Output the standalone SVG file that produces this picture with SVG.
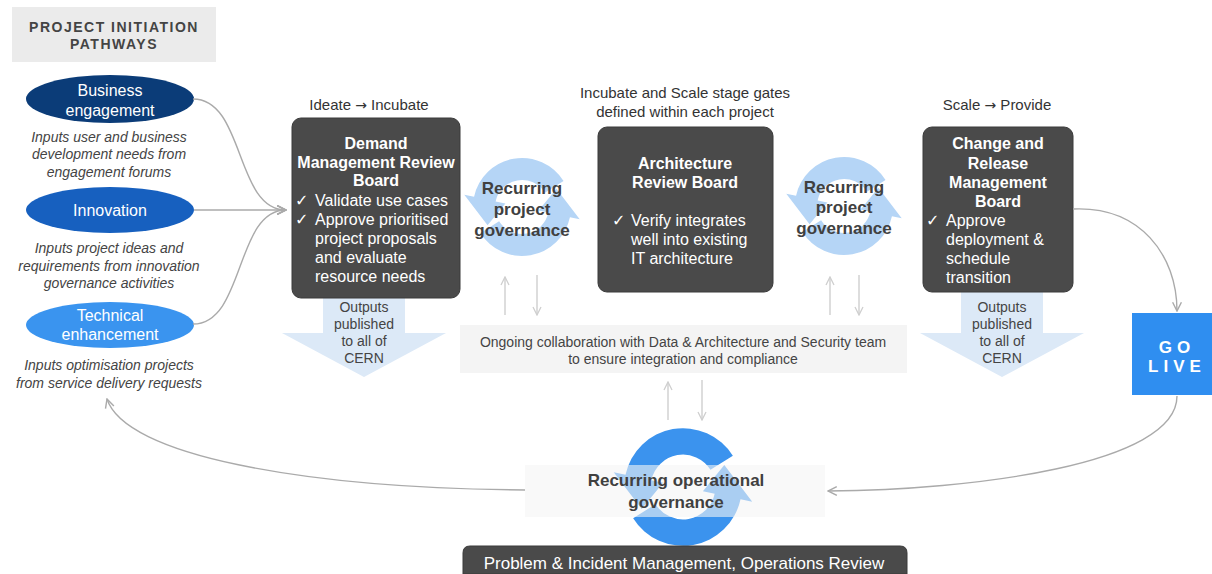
<svg xmlns="http://www.w3.org/2000/svg" xmlns:xlink="http://www.w3.org/1999/xlink" width="1212" height="574" viewBox="0 0 1212 574">
<style>
text{font-family:"Liberation Sans",Arial,sans-serif}
.lbl{font-size:15px;fill:#333;text-anchor:middle}
.ar{font-family:"DejaVu Sans",sans-serif;font-size:14px}
.it{font-size:14px;font-style:italic;fill:#444;text-anchor:middle}
.ell{font-size:16px;fill:#fff;text-anchor:middle}
.bh{font-size:16px;font-weight:bold;fill:#fff;text-anchor:middle}
.bt{font-size:16px;fill:#fff}
.ck{font-family:"DejaVu Sans",sans-serif;font-size:16px;fill:#fff}
.rg{font-size:17px;font-weight:bold;fill:#404040;text-anchor:middle}
.out{font-size:14px;fill:#444;text-anchor:middle}
.dark{fill:#4a4a4a;stroke:#3a3a3a;stroke-width:1}
.conn{fill:none;stroke:#aaa;stroke-width:1.4}
.thin{fill:none;stroke:#cfcfcf;stroke-width:1.4}
</style>
<defs>
<marker id="arr" viewBox="0 0 10 10" refX="9" refY="5" markerWidth="11" markerHeight="11" markerUnits="userSpaceOnUse" orient="auto"><path d="M1,1 L9,5 L1,9" fill="none" stroke="#aaa" stroke-width="1.3"/></marker>
<marker id="arrl" viewBox="0 0 10 10" refX="9" refY="5" markerWidth="10" markerHeight="10" markerUnits="userSpaceOnUse" orient="auto"><path d="M1,1 L9,5 L1,9" fill="none" stroke="#cfcfcf" stroke-width="1.3"/></marker>
<g id="cyc">
<path d="M41.55,-25.97 A49,49 0 0 0 -47.93,-10.19 L-57.71,-12.27 L-34.43,18.31 L-16.6,-3.53 L-26.4,-5.61 A27,27 0 0 1 22.9,-14.31 Z"/>
<path d="M-41.55,25.97 A49,49 0 0 0 47.93,10.19 L57.71,12.27 L34.43,-18.31 L16.6,3.53 L26.4,5.61 A27,27 0 0 1 -22.9,14.31 Z"/>
</g>
</defs>
<rect width="1212" height="574" fill="#fff"/>

<g id="title">
<rect x="12" y="7" width="204" height="55" fill="#ebebeb"/>
<text x="114" y="32" text-anchor="middle" font-size="14" font-weight="bold" fill="#444" letter-spacing="1.5">PROJECT INITIATION</text>
<text x="114" y="49" text-anchor="middle" font-size="14" font-weight="bold" fill="#444" letter-spacing="1.5">PATHWAYS</text>
</g>

<g id="business">
<ellipse cx="110" cy="99" rx="84" ry="24" fill="#0b3c78"/>
<text class="ell" x="110" y="96">Business</text>
<text class="ell" x="110" y="116">engagement</text>
<text class="it" x="109" y="142">Inputs user and business</text>
<text class="it" x="109" y="159">development needs from</text>
<text class="it" x="109" y="177">engagement forums</text>
</g>
<g id="innovation">
<ellipse cx="110" cy="210" rx="84" ry="23" fill="#1760bf"/>
<text class="ell" x="110" y="216">Innovation</text>
<text class="it" x="109" y="253">Inputs project ideas and</text>
<text class="it" x="109" y="271">requirements from innovation</text>
<text class="it" x="109" y="288">governance activities</text>
</g>
<g id="technical">
<ellipse cx="110" cy="325" rx="84" ry="23" fill="#3a94ef"/>
<text class="ell" x="110" y="321">Technical</text>
<text class="ell" x="110" y="340">enhancement</text>
<text class="it" x="109" y="370">Inputs optimisation projects</text>
<text class="it" x="109" y="388">from service delivery requests</text>
</g>

<g id="outputs1">
<polygon points="323,298 405,298 405,333 446,333 364,377 282,333 323,333" fill="#dce9f7"/>
<text class="out" x="364" y="312">Outputs</text>
<text class="out" x="364" y="329">published</text>
<text class="out" x="364" y="346">to all of</text>
<text class="out" x="364" y="363">CERN</text>
</g>
<g id="outputs2">
<polygon points="961,292 1043,292 1043,333 1084,333 1002,377 920,333 961,333" fill="#dce9f7"/>
<text class="out" x="1002" y="312">Outputs</text>
<text class="out" x="1002" y="329">published</text>
<text class="out" x="1002" y="346">to all of</text>
<text class="out" x="1002" y="363">CERN</text>
</g>

<g id="stage-labels">
<text class="lbl" x="369" y="110">Ideate <tspan class="ar">→</tspan> Incubate</text>
<text class="lbl" x="685" y="98">Incubate and Scale stage gates</text>
<text class="lbl" x="685" y="117">defined within each project</text>
<text class="lbl" x="997" y="110">Scale <tspan class="ar">→</tspan> Provide</text>
</g>

<g id="demand">
<rect class="dark" x="292" y="118" width="168" height="180" rx="9"/>
<text class="bh" x="376" y="149">Demand</text>
<text class="bh" x="376" y="168">Management Review</text>
<text class="bh" x="376" y="186">Board</text>
<text class="ck" x="295" y="206">✓</text><text class="bt" x="315" y="206">Validate use cases</text>
<text class="ck" x="295" y="225">✓</text><text class="bt" x="315" y="225">Approve prioritised</text>
<text class="bt" x="315" y="244">project proposals</text>
<text class="bt" x="315" y="263">and evaluate</text>
<text class="bt" x="315" y="282">resource needs</text>
</g>

<g id="architecture">
<rect class="dark" x="598" y="127" width="175" height="165" rx="9"/>
<text class="bh" x="685" y="169">Architecture</text>
<text class="bh" x="685" y="188">Review Board</text>
<text class="ck" x="612" y="226">✓</text><text class="bt" x="631" y="226">Verify integrates</text>
<text class="bt" x="631" y="245">well into existing</text>
<text class="bt" x="631" y="264">IT architecture</text>
</g>

<g id="change">
<rect class="dark" x="923" y="127" width="150" height="165" rx="9"/>
<text class="bh" x="998" y="149">Change and</text>
<text class="bh" x="998" y="169">Release</text>
<text class="bh" x="998" y="188">Management</text>
<text class="bh" x="998" y="207">Board</text>
<text class="ck" x="926" y="226">✓</text><text class="bt" x="946" y="226">Approve</text>
<text class="bt" x="946" y="245">deployment &amp;</text>
<text class="bt" x="946" y="264">schedule</text>
<text class="bt" x="946" y="283">transition</text>
</g>

<g id="project-governance-1">
<use xlink:href="#cyc" href="#cyc" transform="translate(522,207)" fill="#b5d5f6"/>
<text class="rg" x="522" y="194">Recurring</text>
<text class="rg" x="522" y="215">project</text>
<text class="rg" x="522" y="236">governance</text>
</g>
<g id="project-governance-2">
<use xlink:href="#cyc" href="#cyc" transform="translate(844,206)" fill="#b5d5f6"/>
<text class="rg" x="844" y="193">Recurring</text>
<text class="rg" x="844" y="213">project</text>
<text class="rg" x="844" y="234">governance</text>
</g>

<g id="collaboration">
<rect x="460" y="325" width="447" height="48" fill="#f4f4f4"/>
<text class="out" x="683" y="347">Ongoing collaboration with Data &amp; Architecture and Security team</text>
<text class="out" x="683" y="364">to ensure integration and compliance</text>
</g>

<g id="golive">
<rect x="1132" y="313" width="80" height="82" fill="#2f8ef0"/>
<text x="1177" y="353" text-anchor="middle" font-size="17" font-weight="bold" fill="#fff" letter-spacing="5">GO</text>
<text x="1177" y="372" text-anchor="middle" font-size="17" font-weight="bold" fill="#fff" letter-spacing="5">LIVE</text>
</g>

<g id="operational-governance">
<use xlink:href="#cyc" href="#cyc" transform="translate(683,487) scale(1.2)" fill="#3b93ee"/>
<rect x="525" y="465" width="300" height="52" fill="#f5f5f5" fill-opacity="0.6"/>
<text class="rg" x="676" y="486">Recurring operational</text>
<text class="rg" x="676" y="508">governance</text>
</g>

<g id="operations-review">
<path d="M463,574 L463,553 Q463,546 470,546 L900,546 Q907,546 907,553 L907,574 Z" fill="#4a4a4a" stroke="#3a3a3a"/>
<text x="684" y="569" text-anchor="middle" font-size="17" fill="#fff">Problem &amp; Incident Management, Operations Review</text>
</g>

<g id="connectors">
<path class="conn" d="M193,99 C245,99 235,210 286,210" marker-end="url(#arr)"/>
<path class="conn" d="M194,210 L286,210" marker-end="url(#arr)"/>
<path class="conn" d="M193,324 C245,324 235,210 286,210" marker-end="url(#arr)"/>
<path class="conn" d="M1073,209 C1140,206 1177,255 1177,311" marker-end="url(#arr)"/>
<path class="conn" d="M1177,396 C1177,465 970,490 828,491" marker-end="url(#arr)"/>
<path class="conn" d="M525,490 C300,488 125,455 107,399" marker-end="url(#arr)"/>
<path class="thin" d="M505,315 L505,277" marker-end="url(#arrl)"/>
<path class="thin" d="M537,275 L537,315" marker-end="url(#arrl)"/>
<path class="thin" d="M830,315 L830,277" marker-end="url(#arrl)"/>
<path class="thin" d="M859,275 L859,315" marker-end="url(#arrl)"/>
<path class="thin" d="M668,420 L668,382" marker-end="url(#arrl)"/>
<path class="thin" d="M702,380 L702,420" marker-end="url(#arrl)"/>
</g>
</svg>
